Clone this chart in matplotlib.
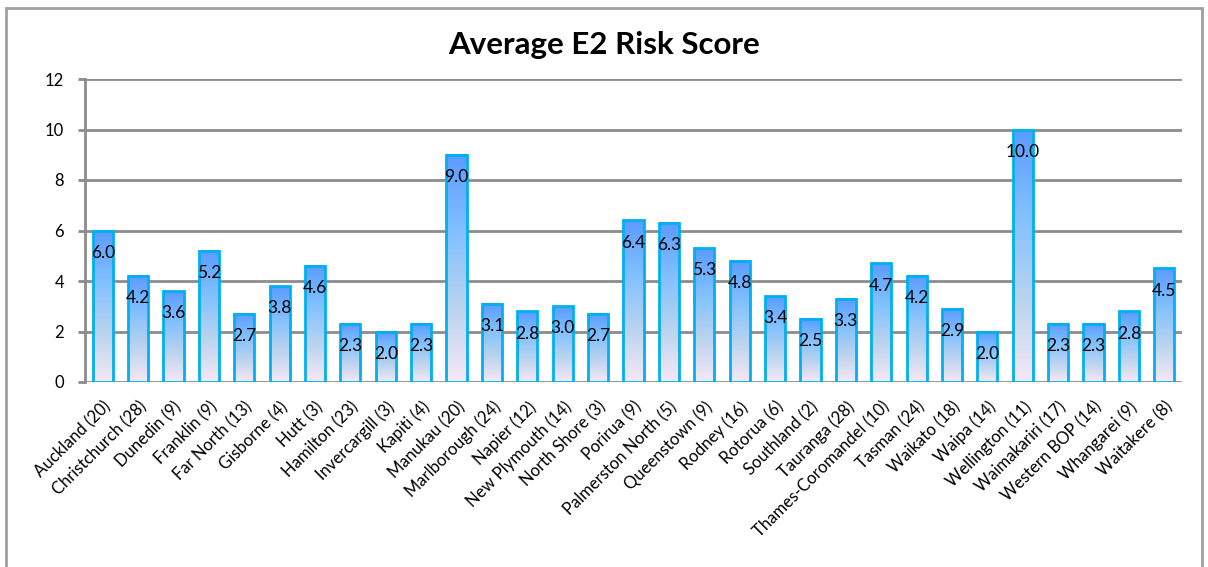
import numpy as np
import matplotlib.pyplot as plt
from matplotlib.colors import LinearSegmentedColormap
from matplotlib.patches import Rectangle

plt.rcParams['font.family'] = ['Lato', 'DejaVu Sans']

districts = ['Auckland (20)', 'Christchurch (28)', 'Dunedin (9)', 'Franklin (9)',
             'Far North (13)', 'Gisborne (4)', 'Hutt (3)', 'Hamilton (23)',
             'Invercargill (3)', 'Kapiti (4)', 'Manukau (20)', 'Marlborough (24)',
             'Napier (12)', 'New Plymouth (14)', 'North Shore (3)', 'Porirua (9)',
             'Palmerston North (5)', 'Queenstown (9)', 'Rodney (16)', 'Rotorua (6)',
             'Southland (2)', 'Tauranga (28)', 'Thames-Coromandel (10)', 'Tasman (24)',
             'Waikato (18)', 'Waipa (14)', 'Wellington (11)', 'Waimakariri (17)',
             'Western BOP (14)', 'Whangarei (9)', 'Waitakere (8)']
scores = [6.0, 4.2, 3.6, 5.2, 2.7, 3.8, 4.6, 2.3, 2.0, 2.3, 9.0, 3.1, 2.8, 3.0, 2.7,
          6.4, 6.3, 5.3, 4.8, 3.4, 2.5, 3.3, 4.7, 4.2, 2.9, 2.0, 10.0, 2.3, 2.3, 2.8, 4.5]
yticks = [0, 2, 4, 6, 8, 10, 12]

grid_col = '#8c8c8c'
edge_col = '#00b0f0'
grad = LinearSegmentedColormap.from_list('e2', ['#f7e8f6', '#b9d3ee', '#80c0ff', '#5b9bff'])

fig = plt.figure(figsize=(12.08, 5.67), dpi=100)
fig.patches.append(Rectangle((6 / 1208, -0.05), 1196 / 1208, 1.05 - 8 / 567,
                             transform=fig.transFigure, fill=False,
                             edgecolor='#a0a0a0', linewidth=2))
ax = fig.add_axes([85 / 1208, (567 - 382) / 567, 1097 / 1208, 303 / 567])

x = np.arange(len(districts))
w = 0.57
g = np.linspace(0, 1, 256).reshape(-1, 1)
for xi, v in zip(x, scores):
    ax.imshow(g, extent=(xi - w / 2, xi + w / 2, 0, v), origin='lower',
              cmap=grad, aspect='auto', zorder=2, interpolation='bilinear')
ax.bar(x, scores, width=w, facecolor='none', edgecolor=edge_col, linewidth=2, zorder=3)

for xi, v in zip(x, scores):
    ax.annotate(f'{v:.1f}', (xi, v), xytext=(0, -16), textcoords='offset points',
                ha='center', va='center', fontsize=12.5, color='black', zorder=4)

ax.set_xlim(-0.5, len(districts) - 0.5)
ax.set_ylim(0, 12)
ax.set_yticks(yticks)
ax.tick_params(axis='y', labelsize=12, length=5, width=2, color=grid_col, pad=10)
ax.set_xticks(x)
ax.set_xticklabels(districts, rotation=45, ha='right', rotation_mode='anchor', fontsize=12)
ax.tick_params(axis='x', length=0, pad=12)
ax.yaxis.grid(True, color=grid_col, linewidth=2)
ax.set_axisbelow(True)
for s in ['top', 'right', 'bottom']:
    ax.spines[s].set_visible(False)
ax.spines['left'].set_color(grid_col)
ax.spines['left'].set_linewidth(2)

fig.text(604 / 1208, 1 - 45 / 567, 'Average E2 Risk Score', ha='center', va='center',
         fontsize=22.5, fontweight='bold')

fig.savefig('out.png', dpi=100)
